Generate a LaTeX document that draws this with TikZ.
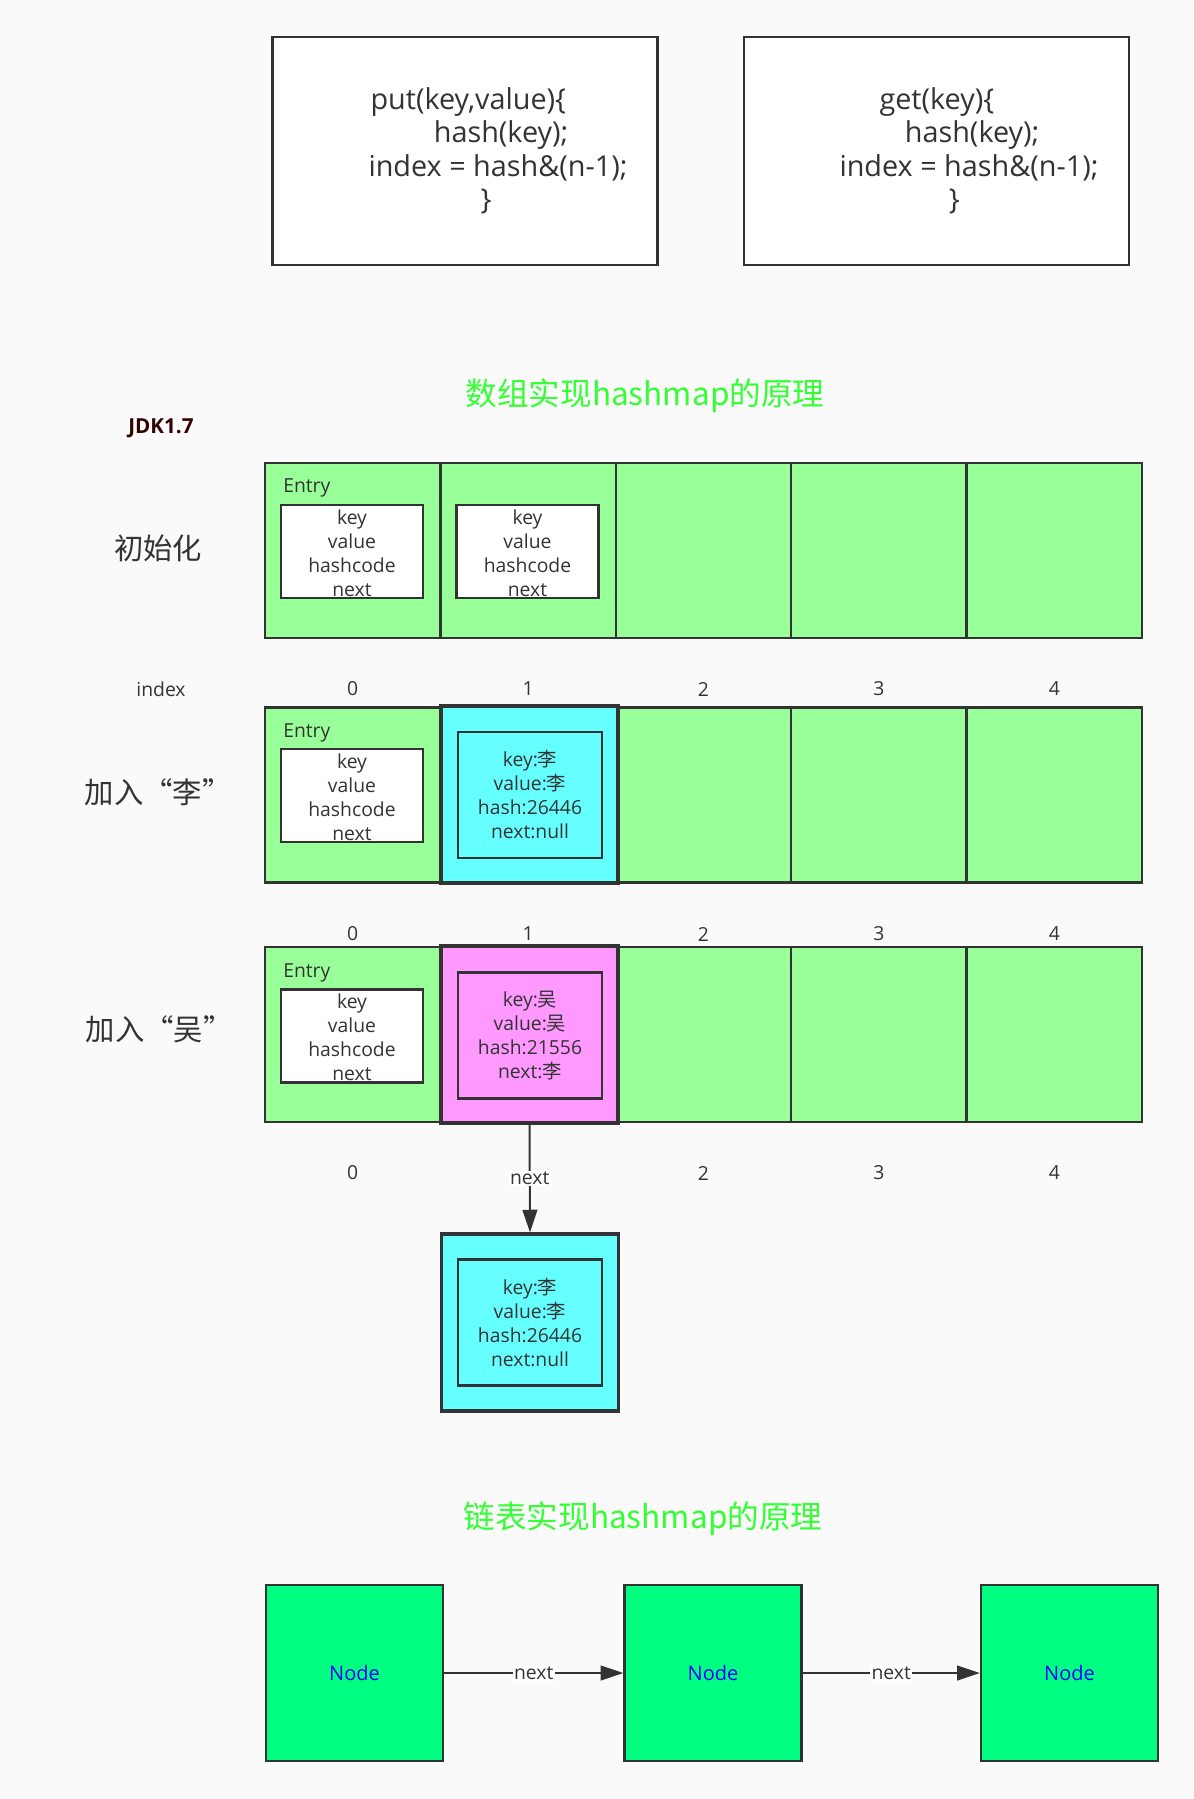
\documentclass[tikz,border=0pt]{standalone}
\usepackage{fontspec}
\setmainfont{Open Sans}
\newfontfamily\cjk{Noto Sans CJK SC}
\usepackage{tikz}
\usetikzlibrary{arrows.meta}
\definecolor{bggray}{RGB}{250,250,250}
\definecolor{linegray}{RGB}{51,51,51}
\definecolor{cellgreen}{RGB}{153,255,153}
\definecolor{cellcyan}{RGB}{102,255,255}
\definecolor{cellpink}{RGB}{255,153,255}
\definecolor{nodegreen}{RGB}{0,255,128}
\definecolor{titlegreen}{RGB}{51,255,51}
\definecolor{jdkred}{RGB}{51,0,0}
\begin{document}
\begin{tikzpicture}[
        x=0.75pt, y=-0.75pt,
        >={Triangle[length=17pt,width=11pt]},
        codebox/.style={draw=linegray, line width=1.7pt, fill=white, minimum width=288.75pt, minimum height=171pt, inner sep=0pt},
        codetext/.style={text=linegray, align=left, inner sep=0pt, font=\fontsize{21.6}{25}\selectfont},
        title/.style={text=titlegreen, inner sep=0pt, font=\cjk\fontsize{23.7}{28}\selectfont},
        rowlabel/.style={text=linegray, inner sep=0pt, font=\cjk\fontsize{22}{26}\selectfont},
        idx/.style={text=linegray, inner sep=0pt, font=\fontsize{14.5}{17}\selectfont},
        cell/.style={draw=linegray, line width=1.7pt, fill=cellgreen, minimum width=131.6pt, minimum height=131.3pt, inner sep=0pt},
        slot/.style={draw=linegray, line width=2.4pt, minimum width=132.75pt, minimum height=132.75pt, inner sep=0pt},
        entrybox/.style={draw=linegray, line width=1.7pt, fill=white, minimum width=106.5pt, minimum height=69.75pt, inner sep=0pt},
        entrytext/.style={text=linegray, align=center, inner sep=0pt, font=\fontsize{14.5}{18}\selectfont},
        databox/.style={draw=linegray, line width=2.2pt, minimum width=108pt, minimum height=94.5pt, inner sep=0pt, text=linegray, align=center, font=\fontsize{14.5}{18}\selectfont},
        listnode/.style={draw=linegray, line width=1.7pt, fill=nodegreen, minimum width=132.75pt, minimum height=132pt, inner sep=0pt, text=blue, font=\fontsize{15}{18}\selectfont},
        lbl/.style={fill=white, text=linegray, inner sep=1pt, font=\fontsize{14.5}{17}\selectfont}
    ]
        \fill[bggray] (0,0) rectangle (1194,1799);
        \useasboundingbox (0,0) rectangle (1194,1799);

        % put / get
        \node[codebox] (putbox) at (465,151) {};
        \node[codetext] (puttext) at (498,151) {\hspace*{1.5pt}put(key,value)\{\\\hspace*{49pt}hash(key);\\index = hash\&(n-1);\\\hspace*{84pt}\}};
        \node[codebox] (getbox) at (936.5,151) {};
        \node[codetext] (gettext) at (969,151) {\hspace*{30pt}get(key)\{\\\hspace*{49pt}hash(key);\\index = hash\&(n-1);\\\hspace*{82pt}\}};

        \node[title] (arraytitle) at (645,396) {数组实现hashmap的原理};
        \node[text=jdkred, inner sep=0pt, font=\bfseries\fontsize{15.5}{18}\selectfont] (jdk) at (161,428) {JDK1.7};

        % init row
        \node[rowlabel] (initlabel) at (158,548) {初始化};
        \node[cell] (a0) at (352.7,550.5) {};
        \node[cell] (a1) at (528.1,550.5) {};
        \node[cell] (a2) at (703.5,550.5) {};
        \node[cell] (a3) at (878.9,550.5) {};
        \node[cell] (a4) at (1054.3,550.5) {};
        \node[entrytext, anchor=west] (entrya) at (283,488) {Entry};
        \node[entrybox] (boxa0) at (352,551.5) {};
        \node[entrytext] (fieldsa0) at (352,553) {key\\value\\hashcode\\next};
        \node[entrybox] (boxa1) at (527.5,551.5) {};
        \node[entrytext] (fieldsa1) at (527.5,553) {key\\value\\hashcode\\next};

        \node[idx] (idxname) at (161,689) {index};
        \node[idx] (ia0) at (352.7,689) {0};
        \node[idx] (ia1) at (528.1,689) {1};
        \node[idx] (ia2) at (703.5,689) {2};
        \node[idx] (ia3) at (878.9,689) {3};
        \node[idx] (ia4) at (1054.3,689) {4};

        % add li
        \node[rowlabel] (lilabel) at (158,792) {加入“李”};
        \node[cell] (b0) at (352.7,795) {};
        \node[cell] (b2) at (703.5,795) {};
        \node[cell] (b3) at (878.9,795) {};
        \node[cell] (b4) at (1054.3,795) {};
        \node[slot, fill=cellcyan] (b1) at (529.5,794.5) {};
        \node[databox, fill=cellcyan] (lib) at (530,795) {key:{\cjk 李}\\value:{\cjk 李}\\hash:26446\\next:null};
        \node[entrytext, anchor=west] (entryb) at (283,733) {Entry};
        \node[entrybox] (boxb0) at (352,795.5) {};
        \node[entrytext] (fieldsb0) at (352,797) {key\\value\\hashcode\\next};

        \node[idx] (ib0) at (352.7,934) {0};
        \node[idx] (ib1) at (528.1,934) {1};
        \node[idx] (ib2) at (703.5,934) {2};
        \node[idx] (ib3) at (878.9,934) {3};
        \node[idx] (ib4) at (1054.3,934) {4};

        % add wu
        \node[rowlabel] (wulabel) at (159,1029) {加入“吴”};
        \node[cell] (c0) at (352.7,1034.5) {};
        \node[cell] (c2) at (703.5,1034.5) {};
        \node[cell] (c3) at (878.9,1034.5) {};
        \node[cell] (c4) at (1054.3,1034.5) {};
        \node[slot, fill=cellpink] (c1) at (529.5,1034.5) {};
        \node[databox, fill=cellpink] (wub) at (530,1035.5) {key:{\cjk 吴}\\value:{\cjk 吴}\\hash:21556\\next:{\cjk 李}};
        \node[entrytext, anchor=west] (entryc) at (283,973) {Entry};
        \node[entrybox] (boxc0) at (352,1036) {};
        \node[entrytext] (fieldsc0) at (352,1037.5) {key\\value\\hashcode\\next};

        \node[idx] (ic0) at (352.7,1173) {0};
        \node[idx] (ic2) at (703.5,1173) {2};
        \node[idx] (ic3) at (878.9,1173) {3};
        \node[idx] (ic4) at (1054.3,1173) {4};

        \node[slot, fill=cellcyan] (d1) at (530,1322.5) {};
        \node[databox, fill=cellcyan] (lid) at (530,1322.5) {key:{\cjk 李}\\value:{\cjk 李}\\hash:26446\\next:null};
        \draw[->, draw=linegray, fill=linegray, line width=1.5pt] (c1.south) -- node[lbl] {next} (d1.north);

        % linked list
        \node[title] (listtitle) at (643,1519) {链表实现hashmap的原理};
        \node[listnode] (n1) at (354.5,1673) {Node};
        \node[listnode] (n2) at (713,1673) {Node};
        \node[listnode] (n3) at (1069.5,1673) {Node};
        \draw[->, draw=linegray, fill=linegray, line width=1.5pt] (n1.east) -- node[lbl] {next} (n2.west);
        \draw[->, draw=linegray, fill=linegray, line width=1.5pt] (n2.east) -- node[lbl] {next} (n3.west);
    \end{tikzpicture}
\end{document}
